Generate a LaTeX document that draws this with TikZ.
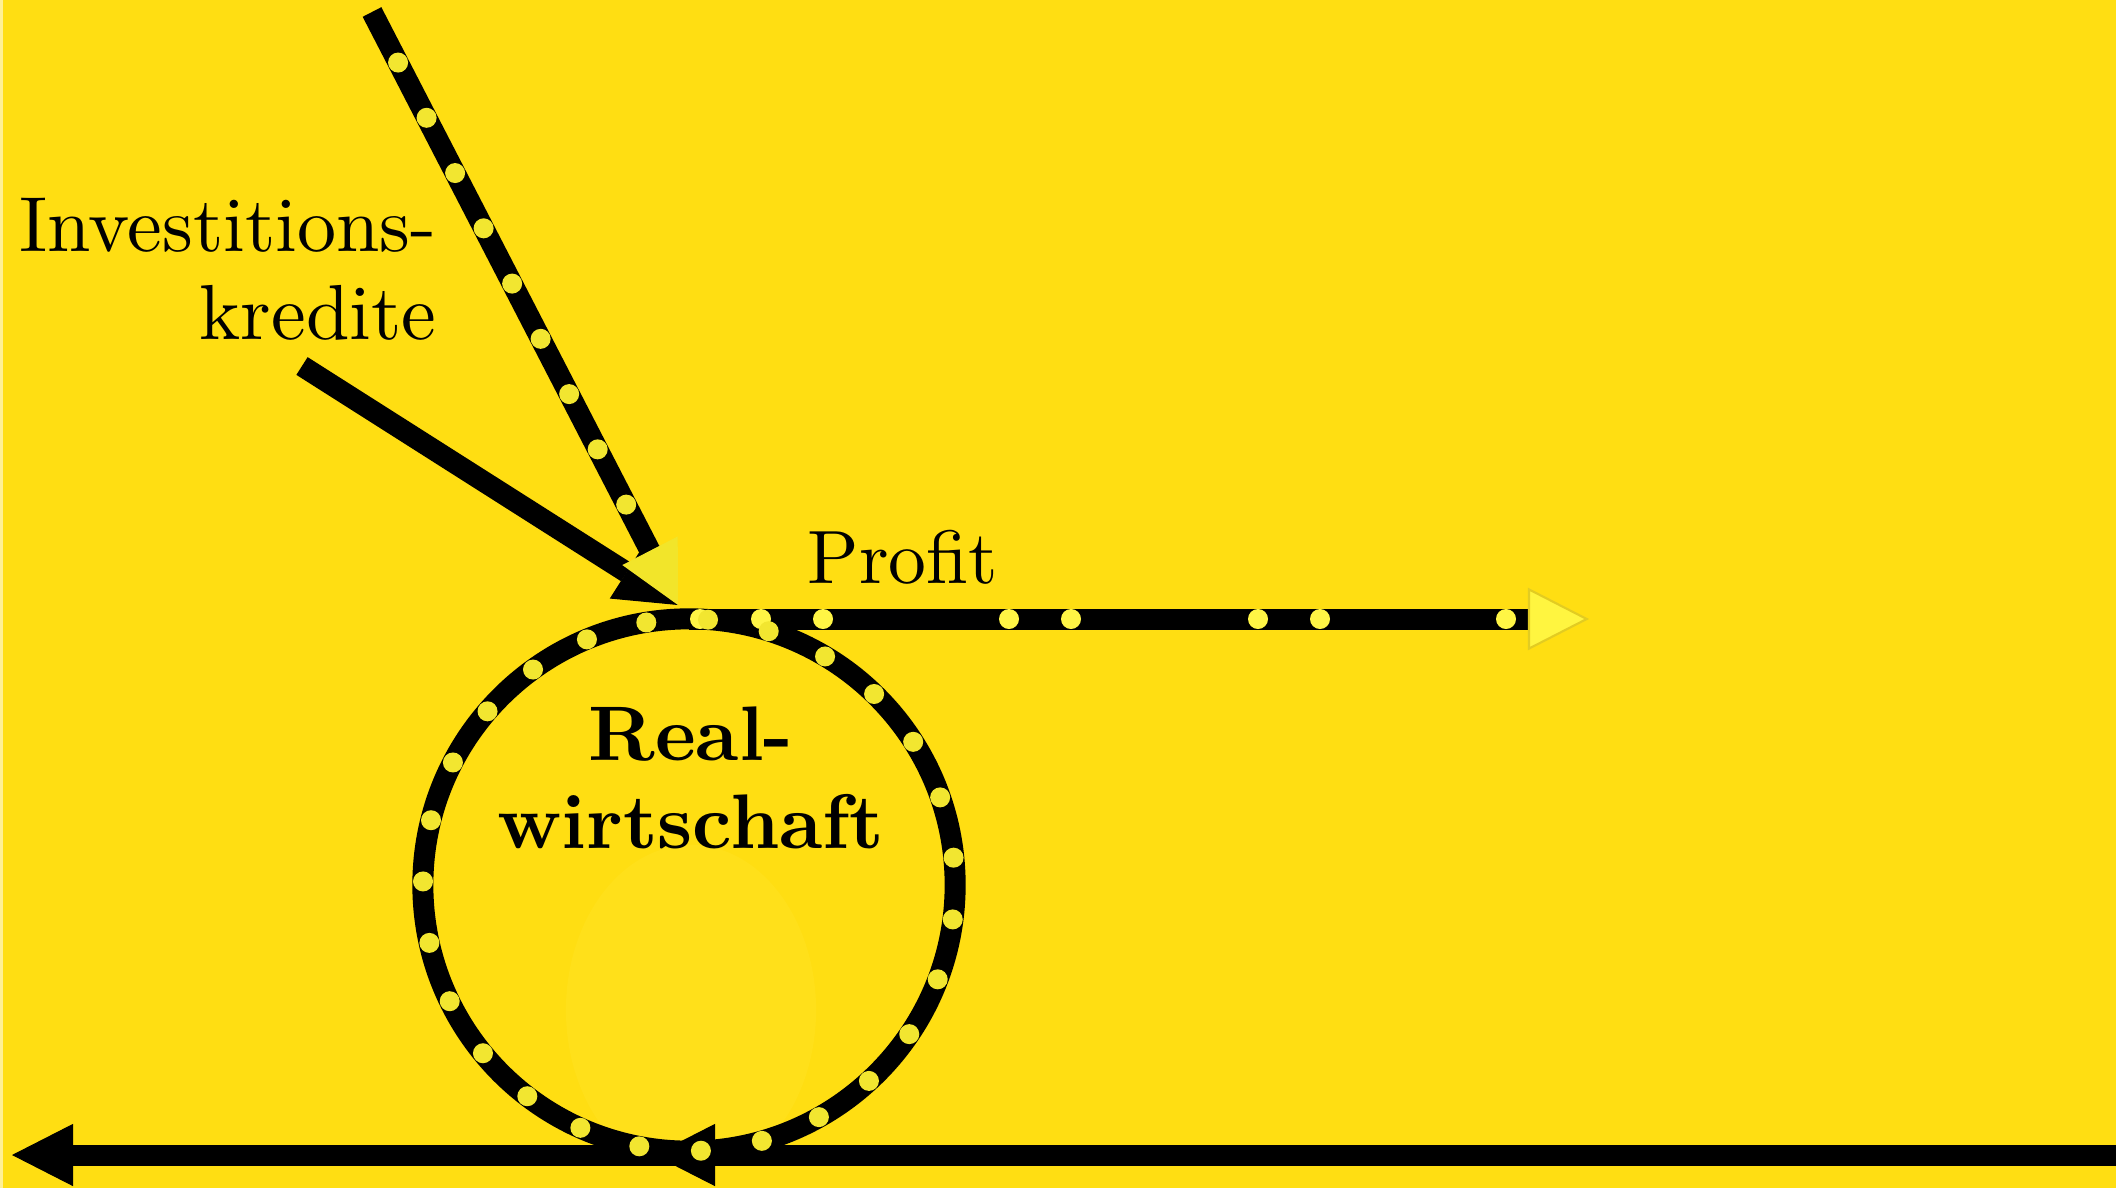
\documentclass[tikz,border=0pt]{standalone}
\usepackage{fontspec}
\setmainfont{lmroman10-regular.otf}[BoldFont=lmroman10-bold.otf]
\usetikzlibrary{arrows.meta,calc}
\definecolor{bg}{HTML}{FFDE12}
\definecolor{ghost}{HTML}{FFE01A}
\definecolor{dotA}{HTML}{F2E630}
\definecolor{dotB}{HTML}{FFF545}
\definecolor{tipA}{HTML}{F2E52A}
\definecolor{tipB}{HTML}{FFF540}
\definecolor{tipBline}{HTML}{E2CC22}
\begin{document}
\begin{tikzpicture}[x=0.01cm,y=-0.01cm,
  flow/.style={line width=0.21cm, black, line cap=butt},
  tipblack/.style={-{Triangle[length=0.61cm,width=0.62cm,line width=0.3pt]}},
  tipyelA/.style={-{Triangle[length=0.61cm,width=0.62cm,line width=0.3pt,fill=tipA,color=tipA]}},
  tipyelB/.style={-{Triangle[length=0.61cm,width=0.62cm,line width=0.6pt,fill=tipB,color=tipBline]}},
  dotstyleA/.style={fill=dotA},
  dotstyleB/.style={fill=dotB},
  lbl/.style={inner sep=0pt, text=black}]
\useasboundingbox (0,0) rectangle (2116,1188);
\fill[bg] (0,0) rectangle (2116,1188);
\fill[white!55!bg] (0,0) rectangle (2.5,1188);

% coordinates
\coordinate (C) at (689,885);
\coordinate (T) at (678,605);
\coordinate (A1) at (372,12);
\coordinate (A2) at (302,366);
\coordinate (P0) at (689,619);
\coordinate (P1) at (1589,619);
\coordinate (B0) at (2125,1155);
\coordinate (B1) at (12,1155);
\coordinate (M0) at (760,1155);
\coordinate (M1) at (654,1155);

% faint inner shape
\begin{scope}
  \clip (C) circle[radius=2.56cm];
  \fill[ghost] (691,1010) ellipse[x radius=1.25cm, y radius=1.65cm];
\end{scope}

% bottom line
\draw[flow, tipblack] (B0) -- (B1);
\draw[flow, tipblack] (M0) -- (M1);

% circle
\draw[flow] (C) circle[radius=2.66cm];

% Investitionskredite arrow (solid)
\draw[flow, tipblack] (A2) -- (T);
% dotted diagonal arrow
\draw[flow, tipyelA] (A1) -- (T);
\foreach \t in {57,119.3,181.6,243.9,306.2,368.5,430.8,493.1,555.4}
  \fill[dotstyleA] ($(A1)!\t/668.6!(T)$) circle[radius=0.1cm];

% profit line
\draw[flow, tipyelB] (P0) -- (P1);
\foreach \x in {700,761,823,1009,1071,1258,1320,1506}
  \fill[dotstyleB] (\x,619) circle[radius=0.1cm];

% circle dots
\foreach \k in {0,...,26}
  \fill[dotstyleA] ($(C)+({-(85.9-13.3333*\k)}:266)$) circle[radius=0.1cm];

% labels (base anchor = baseline of last line)
\node[lbl, font=\fontsize{22.2}{24.75}\selectfont, align=right, anchor=base east] (inv) at (437,339) {Investitions-\\kredite};
\node[lbl, font=\fontsize{21.5}{24}\selectfont, anchor=base] (profit) at (903,583) {Profit};
\node[lbl, font=\bfseries\fontsize{22}{25}\selectfont, align=center, anchor=base] (real) at (691,848) {Real-\\wirtschaft};
\end{tikzpicture}
\end{document}
